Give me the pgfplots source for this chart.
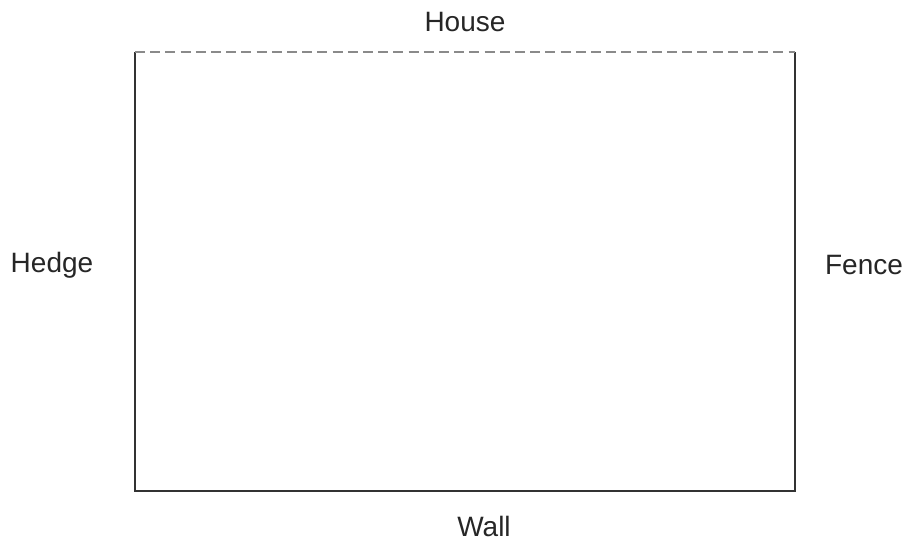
\documentclass[border=0pt]{standalone}
\usepackage{fontspec}
\setmainfont{Liberation Sans}
\usepackage{pgfplots}
\pgfplotsset{compat=1.18}
\definecolor{edge}{HTML}{333333}
\definecolor{dash}{HTML}{8A8A8A}
\tikzset{lbl/.style={font=\fontsize{14}{16}\selectfont, text=black!85, inner sep=0pt}}
\begin{document}
\begin{tikzpicture}
\begin{axis}[
    scale only axis, width=453pt, height=272pt,
    xmin=0, xmax=906, ymin=0, ymax=544, y dir=reverse,
    hide axis, clip=false,
]
    % boundary of the garden (pixel units of the reference)
    \addplot[color=edge, line width=1.1pt] coordinates {
        (135, 52)
        (135, 491)
        (795, 491)
        (795, 52)
    };
    % house side, dashed
    \addplot[color=dash, line width=1.1pt, dash pattern=on 5pt off 2.6pt] coordinates {
        (135, 52)
        (795, 52)
    };
    \draw[draw=none] (axis cs:0,0) rectangle (axis cs:906,544);
    \node[lbl] at (axis cs:465, 22) {House};
    \node[lbl] at (axis cs:52, 265) {Hedge};
    \node[lbl] at (axis cs:864, 265) {Fence};
    \node[lbl] at (axis cs:484, 526) {Wall};
\end{axis}
\end{tikzpicture}
\end{document}
